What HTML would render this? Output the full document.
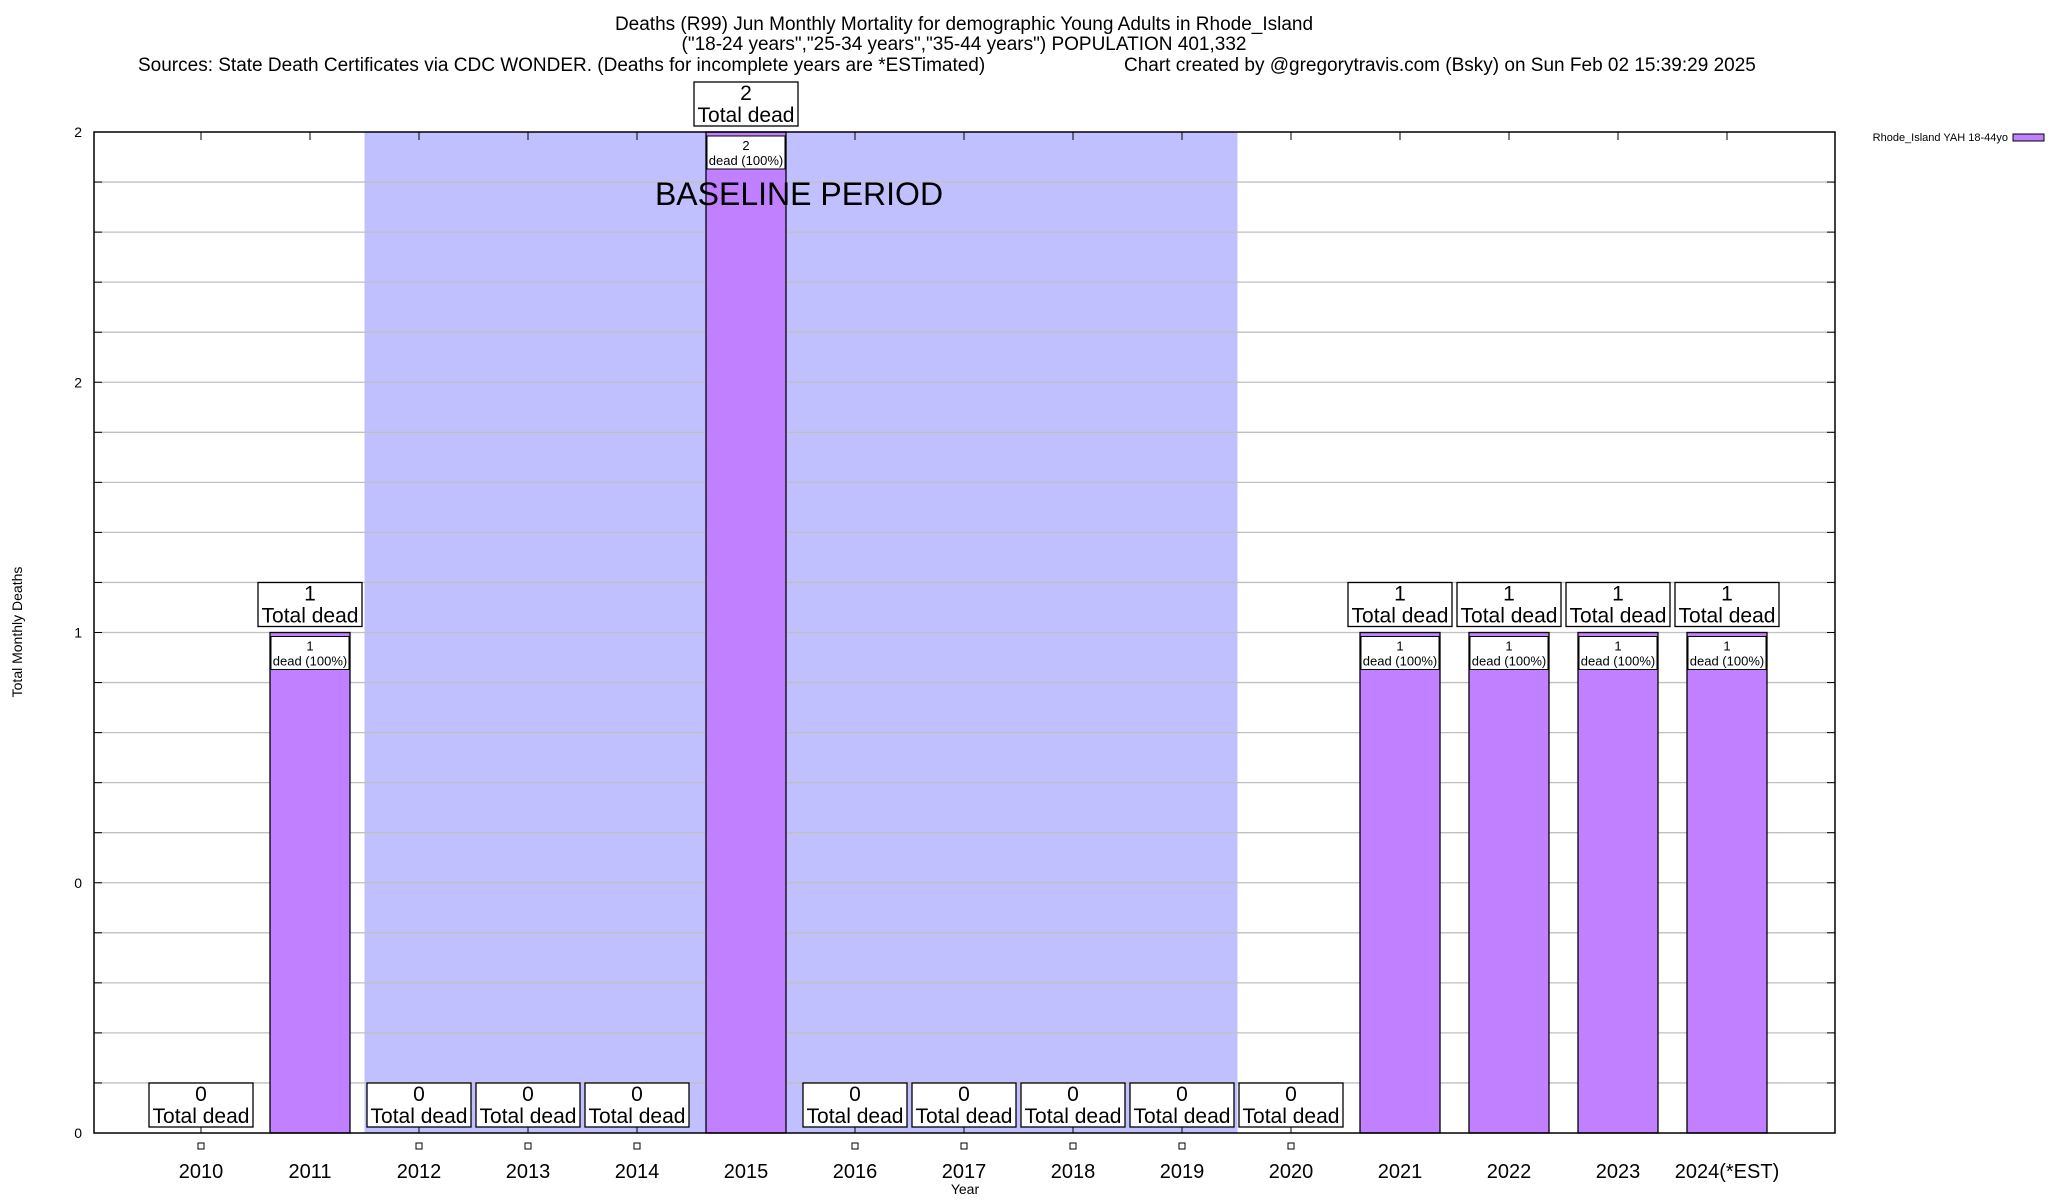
<!DOCTYPE html>
<html><head><meta charset="utf-8">
<style>
html,body{margin:0;padding:0;background:#fff;}
svg{display:block;font-family:"Liberation Sans",sans-serif;}
</style></head>
<body>
<svg id="chart" width="2048" height="1200" viewBox="0 0 2048 1200" xmlns="http://www.w3.org/2000/svg">
<g font-size="19" fill="#000" text-anchor="middle">
<text x="964" y="30">Deaths (R99) Jun Monthly Mortality for demographic Young Adults in Rhode_Island</text>
<text x="964" y="50">("18-24 years","25-34 years","35-44 years") POPULATION 401,332</text>
<text x="138" y="71" text-anchor="start">Sources: State Death Certificates via CDC WONDER. (Deaths for incomplete years are *ESTimated)</text>
<text x="1124" y="71" text-anchor="start">Chart created by @gregorytravis.com (Bsky) on Sun Feb 02 15:39:29 2025</text>
</g>
<g id="plot"></g>
<text x="22" y="632" font-size="14" text-anchor="middle" transform="rotate(-90 22 632)">Total Monthly Deaths</text>
<text x="965" y="1194" font-size="14" text-anchor="middle">Year</text>
<g>
<text x="2008" y="141" font-size="11" text-anchor="end">Rhode_Island YAH 18-44yo</text>
<rect x="2013" y="134" width="31" height="7" fill="#c080ff" stroke="#000" stroke-width="1"/>
</g>
</svg>
<script>
const categories = ["2010","2011","2012","2013","2014","2015","2016","2017","2018","2019","2020","2021","2022","2023","2024(*EST)"];
const deaths = [0,1,0,0,0,2,0,0,0,0,0,1,1,1,1];
const yTickValues = [0,0.5,1,1.5,2];
const yTickLabels = ["0","0","1","2","2"];
const baselineStart = 1.5;
const baselineEnd = 9.5;

const NS = "http://www.w3.org/2000/svg";
const L = 94, R = 1835, T = 132, B = 1133;
const yMax = 2;
const x0 = 201, step = 109, barW = 80;
function xPos(i){ return x0 + i*step; }
function yPos(v){ return B - (v / yMax) * (B - T); }
const plot = document.getElementById('plot');
function mk(tag, attrs, parent){
  const e = document.createElementNS(NS, tag);
  for (const k in attrs) e.setAttribute(k, attrs[k]);
  (parent || plot).appendChild(e);
  return e;
}
const bx1 = xPos(baselineStart) + 0, bx2 = xPos(baselineEnd) + 1;
const bl = mk('rect', {x: bx1, y: T, width: bx2 - bx1, height: B - T, fill: '#c0c0ff'});


for (let k = 1; k < 20; k++) {
  const y = yPos(k * 0.1);
  const g = mk('line', {x1: L, x2: R, y1: y, y2: y, stroke: '#c0c0c0', 'stroke-width': 1.3});
  
  
  mk('line', {x1: L, x2: L + 8, y1: y, y2: y, stroke: '#000'});
  mk('line', {x1: R - 8, x2: R, y1: y, y2: y, stroke: '#000'});
}
yTickValues.forEach((v, i) => {
  const t = mk('text', {x: 82, y: yPos(v) + 5, 'font-size': 14, 'text-anchor': 'end'});
  t.textContent = yTickLabels[i];
  
  
});
categories.forEach((c, i) => {
  const cx = xPos(i), v = deaths[i];
  mk('line', {x1: cx, x2: cx, y1: B, y2: B - 8, stroke: '#000'});
  mk('line', {x1: cx, x2: cx, y1: T, y2: T + 8, stroke: '#000'});
  if (v > 0) {
    const b = mk('rect', {x: cx - barW/2, y: yPos(v), width: barW, height: B - yPos(v), fill: '#c080ff', stroke: '#000', 'stroke-width': 1.3});
    
    
    const ib = mk('rect', {x: cx - barW/2 + 1, y: yPos(v) + 4, width: barW - 2, height: 33, fill: '#fff', stroke: '#000', 'stroke-width': 1});
    
    
    const t1 = mk('text', {x: cx, y: yPos(v) + 18, 'font-size': 13, 'text-anchor': 'middle'});
    t1.textContent = String(v);
    const t2 = mk('text', {x: cx, y: yPos(v) + 33, 'font-size': 13, 'text-anchor': 'middle'});
    t2.textContent = 'dead (100%)';
  } else {
    const m = mk('rect', {x: cx - 3, y: 1143, width: 6, height: 6, fill: '#fff', stroke: '#000', 'stroke-width': 1});
    
    
  }
  const top = yPos(v) - 50;
  const tb = mk('rect', {x: cx - 52, y: top, width: 104, height: 44, fill: '#fff', stroke: '#000', 'stroke-width': 1.3});
  
  
  const a = mk('text', {x: cx, y: top + 18, 'font-size': 21, 'text-anchor': 'middle'});
  a.textContent = String(v);
  const bb = mk('text', {x: cx, y: top + 40, 'font-size': 21, 'text-anchor': 'middle'});
  bb.textContent = 'Total dead';
  const xl = mk('text', {x: cx, y: 1178, 'font-size': 20, 'text-anchor': 'middle'});
  xl.textContent = c;
  
  
});
const bt = mk('text', {x: 799, y: 205, 'font-size': 32, 'text-anchor': 'middle'});
bt.textContent = 'BASELINE PERIOD';


const fr = mk('rect', {x: L, y: T, width: R - L, height: B - T, fill: 'none', stroke: '#000', 'stroke-width': 1.5});


</script>
</body></html>
